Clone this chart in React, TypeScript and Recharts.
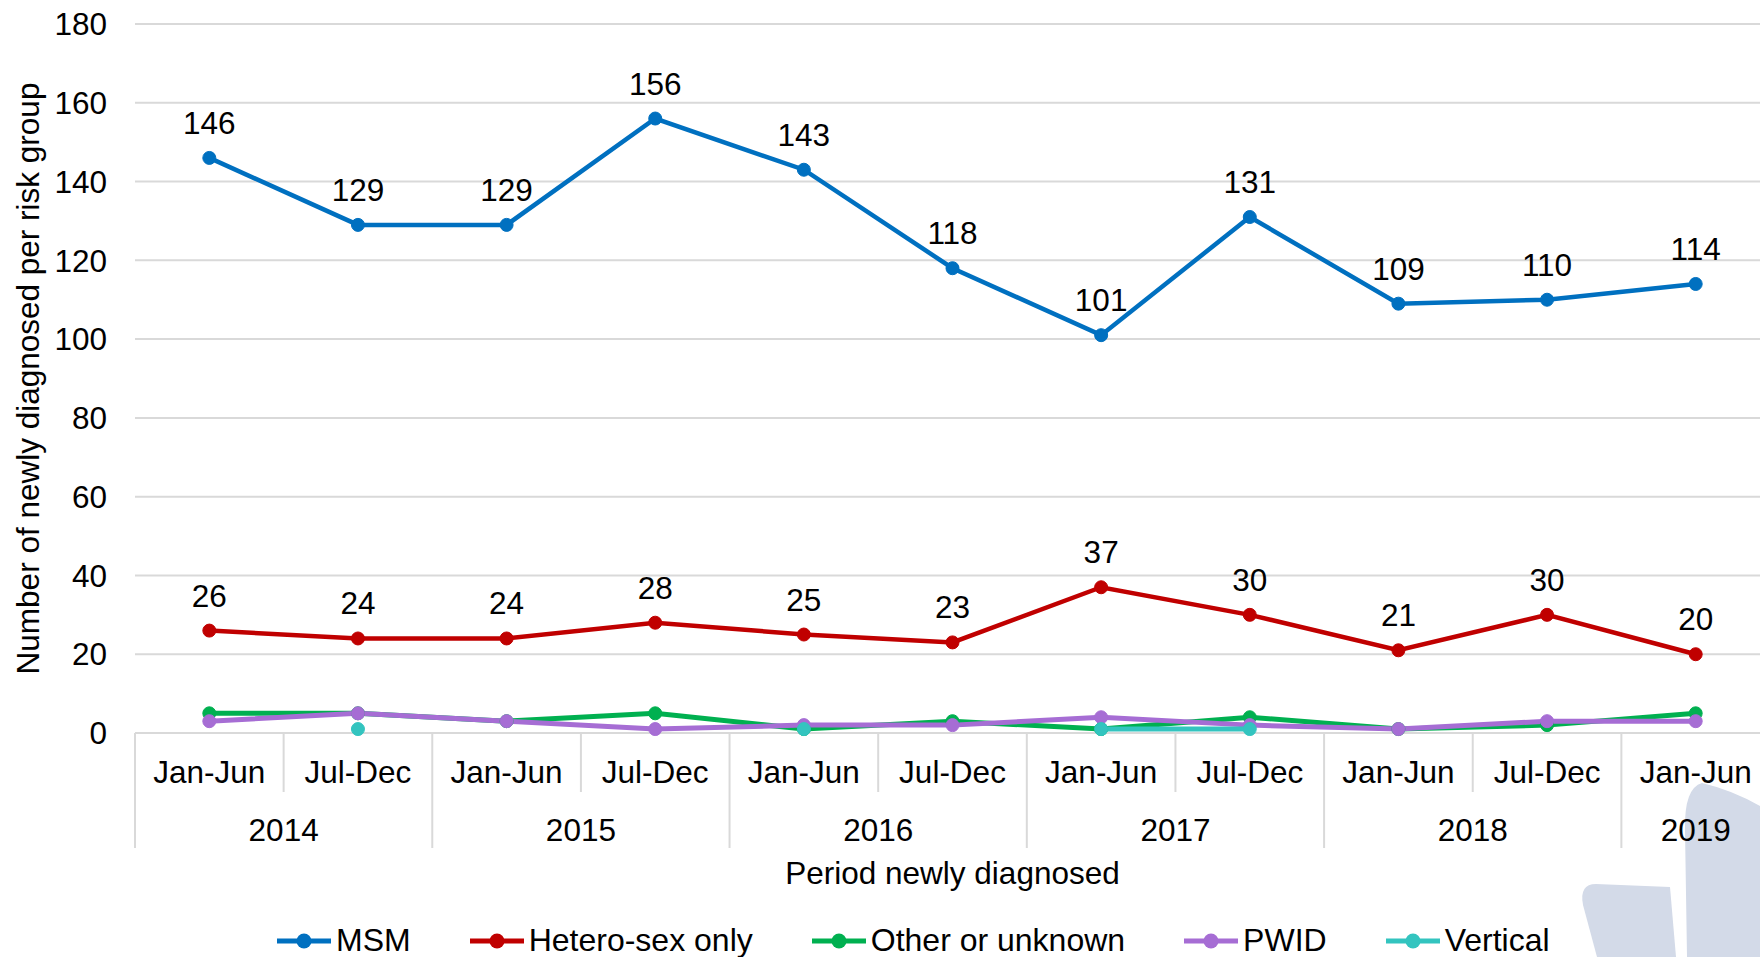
import React from "react";
import { LineChart, Line, XAxis, YAxis, CartesianGrid, Legend, LabelList } from "recharts";

const periods = ["Jan-Jun", "Jul-Dec", "Jan-Jun", "Jul-Dec", "Jan-Jun", "Jul-Dec", "Jan-Jun", "Jul-Dec", "Jan-Jun", "Jul-Dec", "Jan-Jun"];
const years = ["2014", "2014", "2015", "2015", "2016", "2016", "2017", "2017", "2018", "2018", "2019"];
const msm = [146, 129, 129, 156, 143, 118, 101, 131, 109, 110, 114];
const hetero = [26, 24, 24, 28, 25, 23, 37, 30, 21, 30, 20];
const other = [5, 5, 3, 5, 1, 3, 1, 4, 1, 2, 5];
const pwid = [3, 5, 3, 1, 2, 2, 4, 2, 1, 3, 3];
const vertical = [null, 1, null, null, 1, null, 1, 1, null, null, null];
const yTicks = [0, 20, 40, 60, 80, 100, 120, 140, 160, 180];

const data = periods.map((p, i) => ({
  period: p,
  year: years[i],
  msm: msm[i],
  hetero: hetero[i],
  other: other[i],
  pwid: pwid[i],
  vertical: vertical[i],
}));

const SERIES = [
  { key: "msm", name: "MSM", color: "#0070C0", labels: true, width: 4.5 },
  { key: "hetero", name: "Hetero-sex only", color: "#C00000", labels: true, width: 4.5 },
  { key: "other", name: "Other or unknown", color: "#00B050", labels: false, width: 5 },
  { key: "pwid", name: "PWID", color: "#A66DD4", labels: false, width: 5 },
  { key: "vertical", name: "Vertical", color: "#33C4BF", labels: false, width: 5 },
];

const FONT = 31.5;
const GRID = "#D9D9D9";
const BAND = 1635 / 11;

const PeriodTick = (props: any) => {
  const { x, y, payload } = props;
  const i = props.index ?? payload.index;
  const groupStart = i === 0 || years[i] !== years[i - 1];
  let n = 0;
  for (let k = i; k < years.length && years[k] === years[i]; k++) n++;
  const lineX = x - BAND / 2;
  return (
    <g>
      <line x1={lineX} y1={y} x2={lineX} y2={y + (groupStart ? 115 : 59)} stroke={GRID} strokeWidth={2} />
      <text x={x} y={y + 39} textAnchor="middle" dominantBaseline="central" fontSize={FONT} fill="#000">
        {payload.value}
      </text>
      {groupStart && (
        <text x={x + ((n - 1) * BAND) / 2} y={y + 97} textAnchor="middle" dominantBaseline="central" fontSize={FONT} fill="#000">
          {years[i]}
        </text>
      )}
    </g>
  );
};

const renderValueLabel = (p: any) => (
  <text x={p.x} y={p.y - 35} textAnchor="middle" dominantBaseline="central" fontSize={FONT} fill="#000">
    {p.value}
  </text>
);

const renderLegend = () => (
  <div style={{ display: "flex", alignItems: "center", fontSize: 32, color: "#000", whiteSpace: "nowrap" }}>
    {SERIES.map((s) => (
      <div key={s.key} style={{ display: "flex", alignItems: "center", marginRight: 59 }}>
        <svg width={54} height={18}>
          <line x1={0} y1={9} x2={54} y2={9} stroke={s.color} strokeWidth={5} />
          <circle cx={27} cy={9} r={7.5} fill={s.color} />
        </svg>
        <span style={{ marginLeft: 5 }}>{s.name}</span>
      </div>
    ))}
  </div>
);

export default function App() {
  return (
    <div
      style={{
        position: "absolute",
        left: 0,
        top: 0,
        width: 1760,
        height: 957,
        overflow: "hidden",
        background: "#fff",
        fontFamily: '"Liberation Sans", Arial, sans-serif',
      }}
    >
      <svg width={1760} height={957} style={{ position: "absolute", left: 0, top: 0 }}>
        <path d="M1687,957 L1685,830 Q1684,788 1702,783 Q1732,790 1760,806 L1760,957 Z" fill="#D3DAE8" />
        <path d="M1597,957 L1583,905 Q1579,884 1596,884 L1670,887 L1676,957 Z" fill="#D3DAE8" />
      </svg>
      <div style={{ position: "absolute", left: 0, top: 0 }}>
        <LineChart width={1800} height={957} data={data} margin={{ top: 24, right: 30, left: 0, bottom: 0 }}>
          <CartesianGrid vertical={false} stroke={GRID} strokeWidth={2} />
          <XAxis
            dataKey="period"
            padding={{ left: BAND / 2, right: BAND / 2 }}
            interval={0}
            height={224}
            tickLine={false}
            tickSize={0}
            tickMargin={0}
            axisLine={{ stroke: GRID, strokeWidth: 2 }}
            tick={<PeriodTick />}
            label={{
              content: (p: any) => (
                <text
                  x={p.viewBox.x + p.viewBox.width / 2}
                  y={p.viewBox.y + 140}
                  textAnchor="middle"
                  dominantBaseline="central"
                  fontSize={FONT}
                  fill="#000"
                >
                  Period newly diagnosed
                </text>
              ),
            }}
          />
          <YAxis
            domain={[0, 180]}
            ticks={yTicks}
            width={135}
            axisLine={false}
            tickLine={false}
            tickSize={0}
            tickMargin={28}
            tick={{ fontSize: FONT, fill: "#000" }}
            label={{
              content: (p: any) => {
                const cy = p.viewBox.y + p.viewBox.height / 2;
                return (
                  <text
                    x={28}
                    y={cy}
                    transform={`rotate(-90, 28, ${cy})`}
                    textAnchor="middle"
                    dominantBaseline="central"
                    fontSize={FONT}
                    fill="#000"
                  >
                    Number of newly diagnosed per risk group
                  </text>
                );
              },
            }}
          />
          <Legend
            verticalAlign="middle"
            align="center"
            layout="horizontal"
            content={renderLegend}
            wrapperStyle={{ top: 922, left: 277, width: 1480 }}
          />
          {SERIES.map((s) => (
            <Line
              key={s.key}
              dataKey={s.key}
              name={s.name}
              stroke={s.color}
              strokeWidth={s.width}
              dot={{ r: 6.5, fill: s.color, stroke: s.color, strokeWidth: 1 }}
              activeDot={false}
              isAnimationActive={false}
            >
              {s.labels && <LabelList dataKey={s.key} content={renderValueLabel} />}
            </Line>
          ))}
        </LineChart>
      </div>
    </div>
  );
}
